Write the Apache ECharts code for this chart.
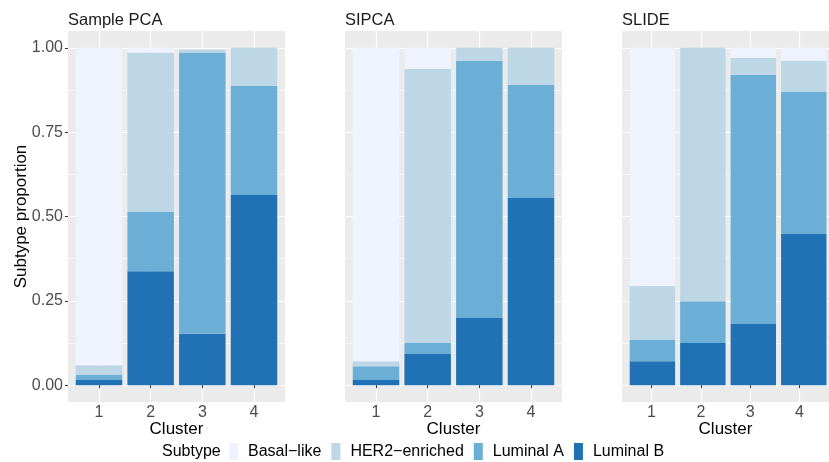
<!DOCTYPE html>
<html>
<head>
<meta charset="utf-8">
<script src="https://cdn.jsdelivr.net/npm/echarts@6/dist/echarts.min.js"></script>
<style>
  html, body { margin: 0; padding: 0; background: #fff; }
  #chart { width: 829px; height: 462px; }
</style>
</head>
<body>
<div id="chart"></div>
<script>
// facets, clusters and subtypes
var methods = ['Sample PCA', 'SIPCA', 'SLIDE'];
var clusters = ['1', '2', '3', '4'];
var clusterPos = [1, 2, 3, 4];
var subtypes = ['Basal\u2212like', 'HER2\u2212enriched', 'Luminal A', 'Luminal B'];
var colors = ['#EFF3FF', '#BDD7E7', '#6BAED6', '#2171B5'];

// proportion of each subtype per cluster (clusters 1..4)
var samplePCA = {
  'Luminal B':     [0.015, 0.338, 0.152, 0.564],
  'Luminal A':     [0.015, 0.175, 0.834, 0.323],
  'HER2\u2212enriched': [0.029, 0.473, 0.009, 0.113],
  'Basal\u2212like':    [0.941, 0.014, 0.000, 0.000]
};
var sipca = {
  'Luminal B':     [0.015, 0.092, 0.199, 0.555],
  'Luminal A':     [0.041, 0.033, 0.762, 0.335],
  'HER2\u2212enriched': [0.015, 0.813, 0.039, 0.110],
  'Basal\u2212like':    [0.929, 0.062, 0.000, 0.000]
};
var slide = {
  'Luminal B':     [0.071, 0.125, 0.181, 0.448],
  'Luminal A':     [0.063, 0.124, 0.739, 0.421],
  'HER2\u2212enriched': [0.160, 0.751, 0.050, 0.092],
  'Basal\u2212like':    [0.706, 0.000, 0.030, 0.039]
};
var panelData = [samplePCA, sipca, slide];

var FONT = "'Liberation Sans', Arial, sans-serif";
var panelLeft = [68, 345, 622];
var panelW = 217, panelTop = 31, panelH = 371;
var unit = panelW / 4.2;      // discrete x scale expanded by 0.6 each side
var yUnit = panelH / 1.1;     // y scale expanded by 5% each side

var chart = echarts.init(document.getElementById('chart'));

var grids = [], xAxes = [], yAxes = [], series = [], titles = [];

function hiddenAxis(extra) {
  var a = {
    axisLine: { show: false }, axisTick: { show: false },
    axisLabel: { show: false }, splitLine: { show: false }
  };
  for (var k in extra) a[k] = extra[k];
  return a;
}

methods.forEach(function (m, i) {
  // grey panel with vertical grid lines, x ticks and labels
  var g = grids.length;
  grids.push({
    left: panelLeft[i], top: panelTop, width: panelW, height: panelH,
    show: true, backgroundColor: '#EBEBEB', borderWidth: 0
  });
  xAxes.push({
    type: 'value', gridIndex: g, min: 0.4, max: 4.6,
    name: 'Cluster', nameLocation: 'middle', nameGap: 19, nameMoveOverlap: false,
    nameTextStyle: { fontFamily: FONT, fontSize: 17, color: '#000' },
    axisLine: { show: false },
    axisTick: { show: true, length: 3, customValues: clusterPos, lineStyle: { color: '#333', width: 1 } },
    axisLabel: { customValues: clusterPos, margin: 3, fontFamily: FONT, fontSize: 16, color: '#4D4D4D',
      formatter: function (v) { return clusters[Math.round(v) - 1]; } },
    splitLine: { show: true, lineStyle: { color: '#FFFFFF', width: 1.2 } }
  });
  yAxes.push(hiddenAxis({ type: 'value', gridIndex: g, min: -0.05, max: 1.05 }));

  // horizontal grid lines, y ticks and labels on the 0..1 range
  var h = grids.length;
  grids.push({
    left: panelLeft[i], top: panelTop + 0.05 * yUnit, width: panelW, height: yUnit,
    show: false
  });
  xAxes.push(hiddenAxis({ type: 'value', gridIndex: h, min: 0, max: 1 }));
  yAxes.push({
    type: 'value', gridIndex: h, min: 0, max: 1, interval: 0.25,
    name: i === 0 ? 'Subtype proportion' : '', nameLocation: 'middle', nameGap: 38, nameMoveOverlap: false,
    nameTextStyle: { fontFamily: FONT, fontSize: 17, color: '#000' },
    axisLine: { show: false },
    axisTick: { show: i === 0, length: 3, lineStyle: { color: '#333', width: 1 } },
    axisLabel: { show: i === 0, margin: 5, fontFamily: FONT, fontSize: 16, color: '#4D4D4D',
      formatter: function (v) { return v.toFixed(2); } },
    splitLine: { show: true, lineStyle: { color: '#FFFFFF', width: 1.2 } },
    minorTick: { show: false, splitNumber: 2 },
    minorSplitLine: { show: true, lineStyle: { color: '#FFFFFF', width: 0.6 } }
  });

  titles.push({
    text: m, left: panelLeft[i], top: 12, padding: 0,
    textStyle: { fontFamily: FONT, fontSize: 16.5, fontWeight: 'normal', color: '#1A1A1A' }
  });
});

// data panels: category axis inset by 0.1 unit so bar centres fall on 1..4
methods.forEach(function (m, i) {
  var g = grids.length;
  grids.push({
    left: panelLeft[i] + 0.1 * unit, top: panelTop, width: 4 * unit, height: panelH,
    show: false
  });
  xAxes.push(hiddenAxis({ type: 'category', gridIndex: g, data: clusters }));
  var yi = yAxes.length;
  yAxes.push(hiddenAxis({ type: 'value', gridIndex: g, min: -0.05, max: 1.05 }));
  // stacked from the bottom: Luminal B, Luminal A, HER2, Basal
  for (var s = subtypes.length - 1; s >= 0; s--) {
    var name = subtypes[s];
    series.push({
      type: 'bar', name: name, stack: 'p' + i,
      xAxisIndex: g, yAxisIndex: yi,
      barWidth: '90%',
      itemStyle: { color: colors[s] },
      emphasis: { disabled: true },
      data: panelData[i][name]
    });
  }
});

titles.push({
  text: 'Subtype', left: 162, top: 444, padding: 0,
  textStyle: { fontFamily: FONT, fontSize: 16, fontWeight: 'normal', color: '#000' }
});

chart.setOption({
  animation: false,
  title: titles,
  grid: grids,
  xAxis: xAxes,
  yAxis: yAxes,
  legend: {
    data: subtypes, left: 229, top: 443, padding: 0, itemWidth: 9, itemHeight: 17, itemGap: 10,
    icon: 'rect', selectedMode: false,
    textStyle: { fontFamily: FONT, fontSize: 16, color: '#000', padding: [0, 0, 0, 5] }
  },
  series: series
});
</script>
</body>
</html>
